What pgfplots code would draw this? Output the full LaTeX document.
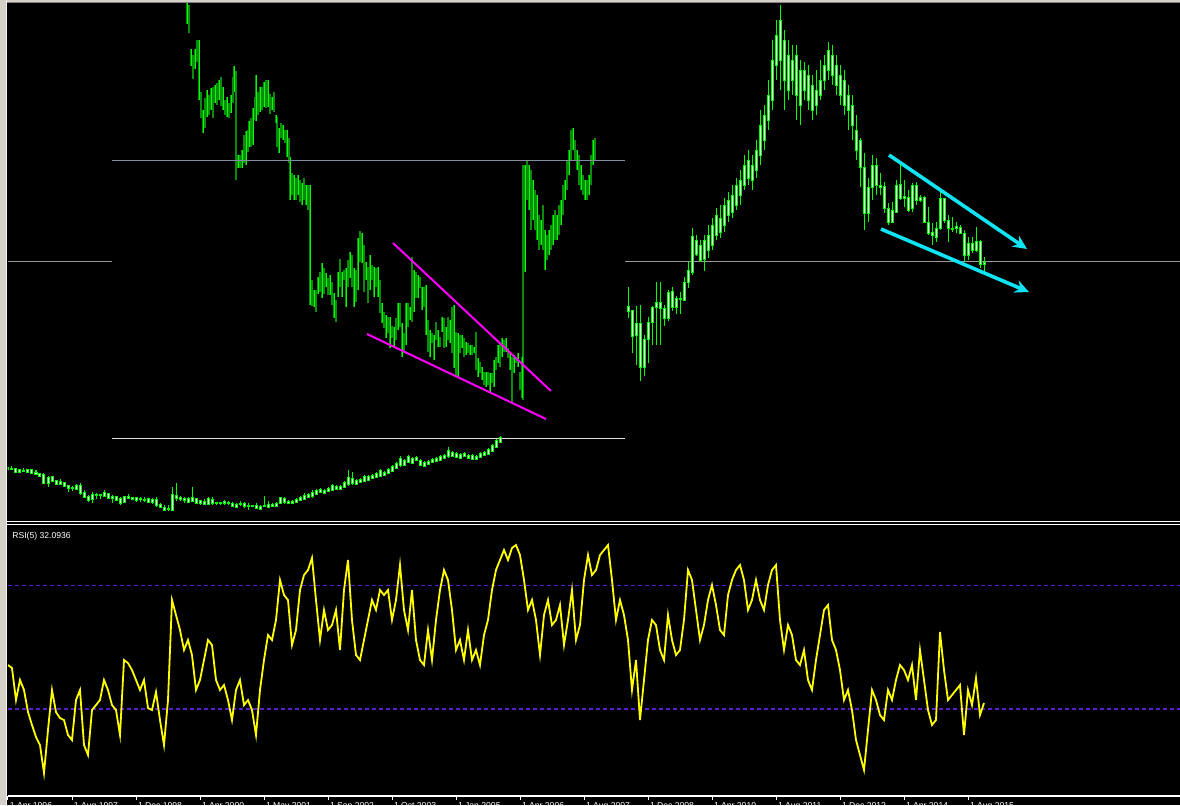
\documentclass[border=0pt]{standalone}
\usepackage{pgfplots}
\pgfplotsset{compat=1.18}
\usepackage{pgfplotstable}
\usepackage{fontspec}
\setmainfont{Liberation Sans}
\usetikzlibrary{arrows.meta}

\definecolor{frame}{HTML}{D4D0C8}
\definecolor{brgreen}{HTML}{00FF00}
\definecolor{dkgreen}{HTML}{0A8C0A}
\definecolor{slate}{HTML}{7F8FA0}
\definecolor{lvl}{HTML}{9A9A9A}
\definecolor{mag}{HTML}{FF00FF}
\definecolor{aqua}{HTML}{10E4F4}
\definecolor{rsiyel}{HTML}{FFFF00}
\definecolor{lvlpurple}{HTML}{5A1ED2}

% left (pasted) bar chart: pixel x, top y, bottom y
\pgfplotstableread{
px t b
187 3 24
189 5 33
191 49 66
193 55 79
195 49 69
197 40 62
199 40 100
201 92 118
203 110 133
205 98 128
207 90 117
209 95 115
211 88 110
213 87 118
215 85 103
217 83 105
219 80 100
221 77 106
223 87 110
225 100 115
227 97 117
229 103 118
231 95 113
233 77 103
234 66 92
236 71 180
238 155 168
240 155 168
242 150 168
244 135 163
246 131 165
248 130 152
249 121 147
251 118 147
253 108 145
255 97 120
256 75 121
258 92 115
260 87 112
262 87 110
264 82 107
266 80 108
268 80 107
270 94 114
272 97 110
274 92 112
276 115 123
277 117 147
279 128 153
281 123 138
283 125 140
285 130 143
287 130 157
289 138 163
290 157 200
292 173 195
294 175 200
296 178 200
298 175 195
300 180 202
302 183 205
304 178 200
306 185 205
308 185 210
310 185 305
312 280 306
314 290 307
316 290 312
318 277 294
320 272 292
322 263 298
324 268 294
326 273 287
328 278 295
330 275 295
332 282 305
334 293 318
336 300 322
338 272 297
340 259 287
342 272 297
344 270 280
346 268 307
348 260 287
350 252 278
352 255 287
354 268 307
356 270 302
358 238 290
360 231 262
362 233 263
364 245 292
366 262 280
368 267 303
370 255 290
372 265 280
374 267 297
376 268 287
378 267 297
380 280 313
382 303 323
384 312 328
386 315 338
388 317 333
390 317 348
392 326 338
394 327 348
396 318 340
398 303 330
400 303 327
402 323 357
404 333 353
406 303 345
408 303 327
410 307 320
412 257 322
414 270 312
416 272 298
418 275 298
420 277 288
422 287 310
424 287 307
426 285 335
428 320 352
430 330 357
432 333 343
434 335 360
436 322 340
438 330 347
440 337 347
442 317 332
444 318 348
446 327 347
448 317 340
450 320 343
452 307 353
454 305 368
456 332 377
458 333 377
460 335 353
462 335 348
464 338 357
466 342 355
468 343 353
470 345 355
472 345 355
474 347 353
476 332 370
478 358 377
480 362 373
482 367 380
484 372 385
486 372 387
488 372 385
490 373 392
492 373 383
494 360 387
496 357 370
498 345 363
500 343 367
502 338 357
504 340 352
506 338 352
508 348 358
510 353 370
512 357 402
514 355 373
516 357 363
518 353 367
520 372 390
522 357 398
523 165 400
525 165 272
527 160 200
529 165 210
531 170 230
533 180 220
535 190 230
537 195 240
539 215 250
541 220 245
543 205 250
545 230 270
547 235 260
549 230 255
551 225 250
553 215 245
555 210 240
557 215 240
559 205 235
561 200 225
563 185 215
565 180 200
567 160 190
569 150 175
571 130 160
573 128 150
575 140 160
577 150 170
579 155 185
581 165 190
583 175 195
585 180 200
587 180 200
589 175 195
591 155 185
593 140 165
595 138 160
}\leftbars

% small candles at the bottom: px, wick top, wick bottom, body top, body bottom
\pgfplotstableread{
px wt wb bt bb
8 466 469 467 469
12 466 469 468 469
16 468 472 468 472
20 469 472 469 472
24 468 471 470 471
28 469 473 469 472
32 469 473 469 473
36 470 475 472 474
40 473 476 473 476
44 473 483 474 483
48 476 487 477 483
52 476 481 476 481
56 480 484 480 484
60 479 485 481 484
64 482 486 482 486
68 485 492 485 488
72 486 491 487 488
76 484 490 485 489
80 483 495 485 493
84 490 498 492 497
88 495 502 496 500
92 492 503 494 499
96 493 499 494 495
100 494 499 494 495
104 490 497 492 496
108 493 498 493 498
112 495 503 496 498
116 496 500 496 500
120 497 505 498 503
124 496 502 496 502
128 494 499 496 498
132 497 499 497 499
136 497 502 497 500
140 497 502 498 499
144 497 502 499 500
148 498 502 498 502
152 498 504 499 502
156 497 507 499 505
160 503 508 504 507
164 505 510 507 510
168 505 511 508 509
172 487 510 494 510
176 483 501 495 498
180 496 501 497 499
184 497 503 498 500
188 497 503 498 502
192 487 502 497 501
196 498 503 498 503
200 500 505 500 503
204 499 505 501 504
208 497 505 498 504
212 497 505 499 503
216 502 505 502 503
220 502 505 502 503
224 500 505 501 503
228 501 505 502 503
232 502 507 503 506
236 503 507 504 507
240 501 506 503 504
244 502 508 503 506
248 503 510 505 506
252 505 507 505 506
256 503 509 505 508
260 505 510 506 509
264 496 507 505 506
268 501 507 504 507
272 503 507 504 506
276 502 507 503 506
280 497 504 497 503
284 497 504 498 502
288 500 504 501 503
292 500 504 501 503
296 498 503 499 502
300 496 501 497 500
304 493 500 495 499
308 493 498 494 497
312 490 498 492 496
316 489 495 490 494
320 488 493 489 492
324 489 494 490 493
328 487 492 488 491
332 484 491 485 490
336 485 490 486 489
340 485 490 486 489
344 481 488 482 487
348 470 486 477 484
352 472 485 478 483
356 479 485 480 484
360 478 483 479 482
364 475 482 476 481
368 475 481 476 480
372 474 479 475 478
376 472 478 473 477
380 469 477 470 476
384 471 476 472 475
388 468 474 469 473
392 465 472 466 471
396 462 469 463 468
400 456 467 458 465
404 459 466 460 465
408 455 463 456 462
412 457 464 458 463
416 456 461 457 460
420 459 466 460 465
424 461 467 462 466
428 460 465 461 464
432 458 463 459 462
436 457 462 458 461
440 455 461 456 460
444 454 459 455 458
448 447 458 450 456
452 451 457 452 456
456 452 458 453 457
460 453 459 454 458
464 452 457 453 456
468 454 459 455 458
472 454 460 455 459
476 455 460 456 459
480 452 458 453 457
484 451 456 452 455
488 448 455 449 454
492 444 452 445 451
496 439 448 440 447
500 436 443 437 442
}\smallc

% right candlestick chart
\pgfplotstableread{
px wt wb bt bb
628 287 318 306 311
632 310 353 310 336
636 306 365 323 335
640 305 381 323 367
644 335 376 339 367
648 317 363 322 339
652 306 345 307 322
656 282 345 302 307
660 282 345 302 308
664 305 326 308 318
668 290 321 292 318
672 287 311 291 307
676 296 314 298 307
680 292 314 298 299
684 277 301 282 300
688 262 288 270 282
692 228 275 236 272
696 235 256 240 254
700 240 262 245 260
704 235 271 240 259
708 225 258 235 250
712 218 250 225 245
716 208 240 215 235
720 205 238 218 232
724 198 232 205 225
728 192 222 200 215
732 185 218 195 212
736 178 210 185 205
740 170 205 180 195
744 155 190 165 185
748 150 185 160 178
752 155 190 165 180
756 140 178 150 170
760 110 165 125 155
764 105 150 115 140
768 80 130 95 120
772 40 110 60 100
776 20 80 35 65
780 5 90 20 60
784 30 110 40 80
788 40 100 55 90
792 45 95 60 80
796 45 120 55 95
800 60 125 70 105
804 62 100 70 90
808 65 110 75 100
812 75 120 85 110
816 70 115 90 105
820 60 100 80 95
824 55 90 65 80
828 42 80 50 70
832 45 85 55 75
836 55 95 65 85
840 65 105 75 95
844 70 115 80 105
848 85 130 95 110
852 95 140 105 125
856 115 160 130 150
860 138 187 140 167
864 153 230 167 213
868 178 222 187 213
872 155 200 165 187
876 158 195 165 185
880 173 195 185 187
884 182 213 186 208
888 203 225 208 222
892 202 223 210 222
896 180 212 185 212
900 165 200 184 198
904 180 207 196 198
908 190 212 197 210
912 183 212 185 208
916 182 205 185 200
920 195 202 197 200
924 196 222 197 222
928 207 235 222 233
932 223 245 232 235
936 222 242 228 237
940 192 230 198 228
944 198 223 198 220
948 215 242 220 228
952 217 232 228 229
956 222 233 226 228
960 225 233 227 233
964 230 262 233 255
968 237 260 243 255
972 237 253 243 250
976 227 252 241 250
980 240 268 241 264
984 257 271 262 264
}\rightc

% RSI(5), read as pixel height in the panel, one value per monthly bar
\pgfplotstableread[row sep=\\]{
ypx\\
665\\668\\700\\680\\690\\712\\725\\737\\745\\773\\
730\\690\\712\\718\\720\\735\\740\\700\\690\\745\\
755\\710\\705\\700\\680\\690\\705\\710\\735\\660\\
663\\670\\680\\690\\680\\708\\710\\692\\720\\745\\
700\\600\\615\\630\\650\\640\\655\\690\\680\\660\\
640\\645\\680\\690\\685\\700\\720\\690\\680\\705\\
700\\710\\735\\690\\660\\635\\640\\620\\580\\595\\
600\\645\\630\\590\\575\\570\\558\\600\\640\\610\\
630\\625\\610\\650\\590\\560\\620\\655\\660\\640\\
620\\600\\610\\590\\595\\590\\620\\600\\565\\610\\
630\\590\\640\\660\\665\\630\\660\\620\\590\\570\\
580\\610\\650\\640\\660\\630\\660\\650\\665\\635\\
620\\590\\570\\560\\550\\560\\548\\545\\555\\580\\
610\\600\\620\\655\\615\\600\\625\\620\\605\\645\\
620\\590\\640\\625\\580\\555\\575\\570\\555\\550\\
545\\580\\620\\600\\615\\640\\690\\660\\720\\680\\
640\\620\\625\\650\\660\\615\\640\\655\\650\\620\\
570\\580\\610\\640\\625\\600\\585\\605\\630\\635\\
595\\580\\570\\565\\580\\610\\600\\580\\600\\610\\
585\\570\\565\\620\\650\\625\\635\\660\\665\\650\\
680\\690\\660\\635\\610\\605\\640\\650\\670\\700\\
690\\710\\740\\755\\770\\730\\690\\700\\715\\720\\
690\\700\\680\\665\\670\\680\\665\\700\\650\\680\\
710\\725\\720\\632\\670\\700\\695\\690\\685\\735\\
690\\705\\678\\715\\703\\
}\rsi

\pgfplotsset{
  wick/.style={brgreen, line width=0.5pt, mark=none,
    quiver={u=0, v=\thisrow{wb}-\thisrow{wt}}},
  bodyg/.style={brgreen, line width=1.5pt, mark=none,
    quiver={u=0, v=\thisrow{bb}-\thisrow{bt}+1}},
  bodyw/.style={white, line width=0.5pt, mark=none,
    quiver={u=0, v={max(\thisrow{bb}-\thisrow{bt}-1,0)}}},
}

\begin{document}
\begin{tikzpicture}
% window background and frame
\fill[black] (0,0) rectangle (590pt,-402.5pt);
\fill[frame] (0,0) rectangle (3.5pt,-402.5pt);
\fill[frame] (0,0) rectangle (590pt,-1.2pt);
\draw[gray, line width=0.4pt] (3.5pt,-1.4pt) -- (590pt,-1.4pt);
\draw[white!90!gray, line width=0.5pt] (3.3pt,0) -- (3.3pt,-402.5pt);

\begin{axis}[at={(4pt,-1.5pt)}, anchor=north west, scale only axis,
  width=586pt, height=259pt,
  xmin=8, xmax=1180, ymin=3, ymax=521, y dir=reverse,
  hide axis, clip=true]
  % left pasted bar chart
  \addplot[dkgreen, line width=0.6pt, mark=none,
    quiver={u=0, v=\thisrow{b}-\thisrow{t}}] table[x=px, y=t] {\leftbars};
  \addplot[brgreen, line width=0.4pt, mark=none, each nth point=2,
    quiver={u=0, v=\thisrow{b}-\thisrow{t}}] table[x=px, y=t] {\leftbars};
  % horizontal levels
  \addplot[slate, line width=0.5pt] coordinates {(112,160) (625,160)};
  \addplot[lvl, line width=0.5pt] coordinates {(8,261) (112,261)};
  \addplot[lvl, line width=0.5pt] coordinates {(625,261) (1180,261)};
  \addplot[white!88!black, line width=0.5pt] coordinates {(112,438) (625,438)};
  % small candles
  \addplot[wick] table[x=px, y=wt] {\smallc};
  \addplot[bodyg] table[x=px, y expr=\thisrow{bt}-0.5] {\smallc};
  \addplot[bodyw] table[x=px, y expr=\thisrow{bt}+0.5] {\smallc};
  % right candles
  \addplot[wick] table[x=px, y=wt] {\rightc};
  \addplot[bodyg] table[x=px, y expr=\thisrow{bt}-0.5] {\rightc};
  \addplot[bodyw] table[x=px, y expr=\thisrow{bt}+0.5] {\rightc};
  % magenta wedge
  \addplot[mag, line width=1pt] coordinates {(393,243) (551,391)};
  \addplot[mag, line width=1pt] coordinates {(367,334) (546,419)};
  % cyan channel arrows
  \addplot[aqua, line width=1.8pt, -{Stealth[length=7pt, width=6.5pt]}]
    coordinates {(889,155) (1027,249)};
  \addplot[aqua, line width=1.8pt, -{Stealth[length=7pt, width=6.5pt]}]
    coordinates {(881,229) (1029,292)};
\end{axis}

% panel separator
\draw[white, line width=0.5pt] (3.5pt,-260.75pt) -- (590pt,-260.75pt);
\draw[white, line width=0.5pt] (3.5pt,-262.1pt) -- (590pt,-262.1pt);

\begin{axis}[at={(4pt,-262.5pt)}, anchor=north west, scale only axis,
  width=586pt, height=135.5pt,
  xmin=0, xmax=293, ymin=1.784, ymax=89.69,
  axis x line*=bottom, axis y line=none,
  x axis line style={white, line width=0.6pt, -},
  xtick={0,16,...,240},
  xticklabels={1 Apr 1996,1 Aug 1997,1 Dec 1998,1 Apr 2000,1 May 2001,1 Sep 2002,1 Oct 2003,1 Jan 2005,1 Apr 2006,1 Aug 2007,1 Dec 2008,1 Apr 2010,1 Aug 2011,1 Dec 2012,1 Apr 2014,1 Aug 2015},
  tick align=outside, major tick length=2.2pt,
  xtick style={white, line width=0.5pt},
  xticklabel style={anchor=north west, inner sep=0pt, text=white,
    font=\fontsize{4.3}{5}\selectfont, xshift=0.8pt, yshift=-0.9pt},
  ytick=\empty, clip=true]
  \addplot[lvlpurple, line width=0.6pt, dash pattern=on 2pt off 1.5pt]
    coordinates {(0,70) (293,70)};
  \addplot[lvlpurple, line width=0.6pt, dash pattern=on 2pt off 1.5pt]
    coordinates {(0,30) (293,30)};
  \addplot[rsiyel, line width=0.9pt, y filter/.expression={(801.5-y)/3.083}]
    table[x expr=\coordindex, y=ypx] {\rsi};
\end{axis}

\node[anchor=north west, inner sep=0pt, text=white,
  font=\fontsize{4.3}{5}\selectfont] at (6pt,-265.8pt) {RSI(5) 32.0936};

\pgfresetboundingbox
\useasboundingbox (0,0) rectangle (590pt,-402.5pt);
\end{tikzpicture}
\end{document}
